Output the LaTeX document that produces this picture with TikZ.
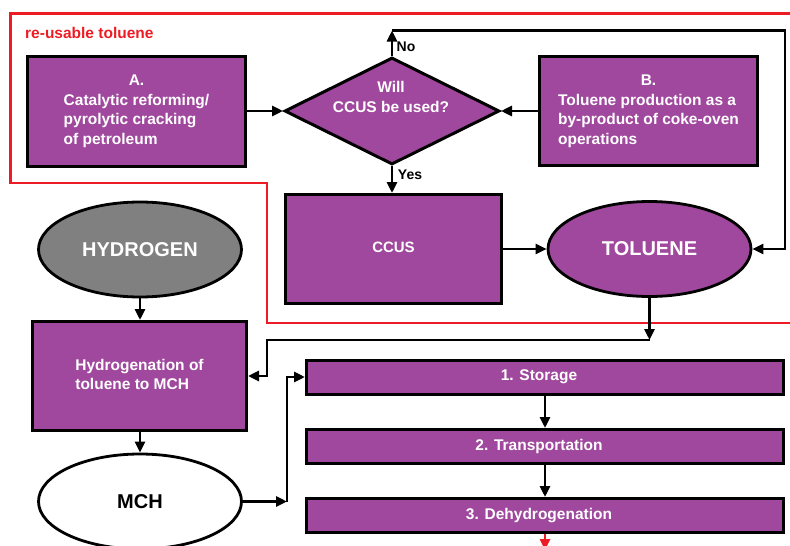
\documentclass[tikz,border=0pt]{standalone}
\usepackage{fontspec}
\setmainfont{Liberation Sans}
\usetikzlibrary{arrows.meta,shapes.geometric}
\definecolor{purp}{RGB}{160,72,158}
\definecolor{bordred}{RGB}{237,28,36}
\definecolor{hgray}{RGB}{128,128,128}
\begin{document}
\begin{tikzpicture}[x=1pt,y=-1pt,
  box/.style={draw=black, line width=3pt, fill=purp, inner sep=0pt, text=white,
    font=\fontsize{15.5}{19.5}\selectfont\bfseries},
  stepbox/.style={box, minimum width=477pt, minimum height=34pt},
  oval/.style={ellipse, draw=black, line width=2.8pt, minimum width=203pt,
    minimum height=95pt, inner sep=0pt, font=\fontsize{20}{24}\selectfont\bfseries},
  conn/.style={line width=2.8pt, -{Triangle[length=11pt,width=10pt]}},
  lbl/.style={font=\fontsize{14}{16}\selectfont\bfseries, inner sep=0pt}]
\useasboundingbox (0,0) rectangle (790,546);
% red frame
\draw[bordred, line width=2.4pt] (792,13.5) -- (10.5,13.5) -- (10.5,183) -- (267,183) -- (267,323) -- (792,323);
\node[anchor=base west, text=bordred, font=\fontsize{15.5}{18}\selectfont\bfseries, inner sep=0pt] (title) at (25,38) {re-usable toluene};
% nodes
\node[box, minimum width=218pt, minimum height=110pt] (A) at (136.5,111)
  {\begin{tabular}{@{}l@{}}\multicolumn{1}{@{}c@{}}{A.}\\Catalytic reforming/\\pyrolytic cracking\\of petroleum\end{tabular}};
\node[diamond, draw=black, line width=3pt, fill=purp, minimum width=215pt, minimum height=107pt, inner sep=0pt] (D) at (392,111) {};
\node[text=white, font=\fontsize{15.5}{19.5}\selectfont\bfseries, align=center, inner sep=0pt] (Dtxt) at (391,97) {Will\\CCUS be used?};
\node[box, minimum width=218pt, minimum height=109pt] (B) at (648.5,111)
  {\begin{tabular}{@{}l@{}}\multicolumn{1}{@{}c@{}}{B.}\\Toluene production as a\\by-product of coke-oven\\operations\end{tabular}};
\node[box, minimum width=216pt, minimum height=109pt, font=\fontsize{15}{18}\selectfont\bfseries] (C) at (393.5,249) {CCUS\rule[-4pt]{0pt}{0pt}};
\node[oval, fill=purp, text=white] (T) at (649.5,249) {TOLUENE};
\node[oval, fill=hgray, text=white] (H) at (140,249.5) {HYDROGEN};
\node[box, minimum width=214pt, minimum height=109pt] (G) at (139.5,376)
  {\begin{tabular}{@{}l@{}}Hydrogenation of\\toluene to MCH\end{tabular}};
\node[oval, fill=white, text=black] (M) at (140,501.5) {MCH};
\node[stepbox] (S1) at (545,377) {\kern-12pt 1. Storage};
\node[stepbox] (S2) at (545,446.5) {\kern-12pt 2. Transportation};
\node[stepbox] (S3) at (545,515.5) {\kern-12pt 3. Dehydrogenation};
% labels
\node[lbl] (no) at (406,47) {No};
\node[lbl] (yes) at (410,175) {Yes};
% connectors
\draw[conn] (A.east) -- (D.west);
\draw[conn] (B.west) -- (D.east);
\coordinate (nocorner) at (392,30.5);
\coordinate (nr) at (785,30.5);
\draw[conn] (D.north) -- (nocorner);
\draw[conn] (nocorner) -- (nr) |- (T.east);
\draw[conn] (D.south) -- (D.south |- C.north);
\draw[conn] (C.east) -- (T.west);
\coordinate (tc) at (649.5,340);
\coordinate (tl) at (267,340);
\draw[conn] (T.south) -- (tc);
\draw[conn] (tc) -- (tl) |- (G.east);
\draw[conn] (H.south) -- (H.south |- G.north);
\draw[conn] (G.south -| M.north) -- (M.north);
\coordinate (mc) at (287,501.5);
\draw[conn] (M.east) -- (mc);
\draw[conn] (mc) |- (S1.west);
\draw[conn] (S1.south) -- (S2.north);
\draw[conn] (S2.south) -- (S3.north);
\draw[conn, bordred] (S3.south) -- ++(0,16);
\end{tikzpicture}
\end{document}
